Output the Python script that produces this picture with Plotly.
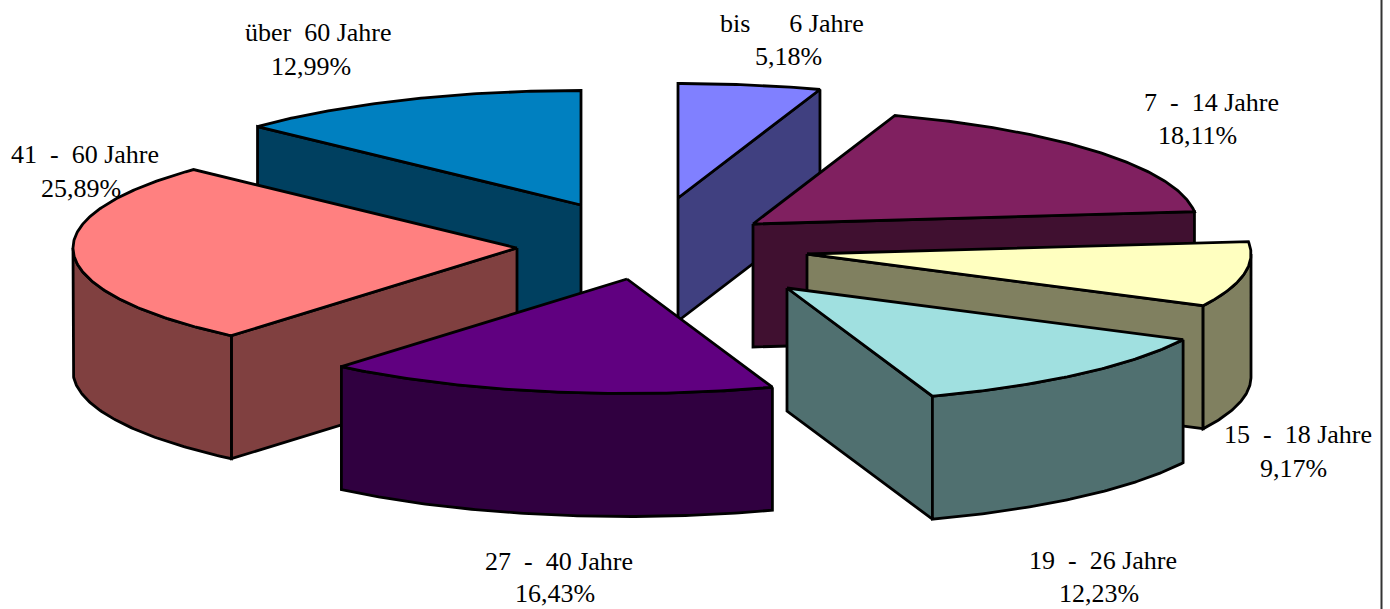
import math
import plotly.graph_objects as go

# --- data ---
categories = ["bis      6 Jahre", "7  -  14 Jahre", "15  -  18 Jahre", "19  -  26 Jahre",
              "27  -  40 Jahre", "41  -  60 Jahre", "über  60 Jahre"]
shares = [5.18, 18.11, 9.17, 12.23, 16.43, 25.89, 12.99]

# --- styles ---
top_colors = ["#8080FF", "#802060", "#FFFFC0", "#A0E0E0", "#600080", "#FF8080", "#0080C0"]
wall_colors = ["#404080", "#401030", "#808060", "#507070", "#300040", "#804040", "#004060"]

# --- pie geometry (in axis units = screen pixels) ---
CX, CY = 662, 251
RX, RY = 444, 114.5
DEPTH = 123
explode_x = [16, 91, 145, 125, -35, -145, -81]
explode_y = [-53, -27, 3, 37, 28, -3, -46]
draw_order = [6, 0, 1, 2, 3, 5, 4]
label_pos = [((792, 23), (788, 56)), ((1211, 102), (1197, 135)), ((1298, 434), (1293, 468)),
             ((1103, 560), (1099, 593.5)), ((559, 561), (555, 593.5)), ((85, 154), (81, 188)),
             ((318, 32), (311, 66))]

total = sum(shares)
edges = [0.0]
for s in shares:
    edges.append(edges[-1] + s / total * 360.0)


def rim(apex, a):
    t = math.radians(a)
    return apex[0] + RX * math.sin(t), apex[1] - RY * math.cos(t)


def arc(apex, a0, a1):
    n = max(2, int(abs(a1 - a0) * 2))
    return [rim(apex, a0 + (a1 - a0) * i / n) for i in range(n + 1)]


def add_poly(fig, pts, color):
    xs = [p[0] for p in pts] + [pts[0][0]]
    ys = [p[1] for p in pts] + [pts[0][1]]
    fig.add_trace(go.Scatter(x=xs, y=ys, mode="lines", fill="toself", fillcolor=color,
                             line=dict(color="#000000", width=2.8), hoverinfo="skip",
                             showlegend=False))


def lower(pts):
    return [(x, y + DEPTH) for x, y in reversed(pts)]


fig = go.Figure()
for i in draw_order:
    a0, a1 = edges[i], edges[i + 1]
    apex = (CX + explode_x[i], CY + explode_y[i])
    # cut faces turned towards the viewer
    if math.cos(math.radians(a0 - 90)) < -1e-6:
        edge = [apex, rim(apex, a0)]
        add_poly(fig, edge + lower(edge), wall_colors[i])
    if math.cos(math.radians(a1 + 90)) < -1e-6:
        edge = [apex, rim(apex, a1)]
        add_poly(fig, edge + lower(edge), wall_colors[i])
    # outer curved wall (front half of the rim only)
    lo, hi = max(a0, 90), min(a1, 270)
    if hi > lo:
        curve = arc(apex, lo, hi)
        add_poly(fig, curve + lower(curve), wall_colors[i])
    # top face
    add_poly(fig, [apex] + arc(apex, a0, a1), top_colors[i])

font = dict(family="Liberation Serif", size=26, color="#000000")
for name, share, (p1, p2) in zip(categories, shares, label_pos):
    fig.add_annotation(x=p1[0], y=p1[1], text=name.replace(" ", "\u00a0"), showarrow=False, font=font)
    fig.add_annotation(x=p2[0], y=p2[1], text=f"{share:.2f}%".replace(".", ","), showarrow=False, font=font)

fig.add_shape(type="line", xref="paper", yref="paper", x0=1381.5 / 1390, x1=1381.5 / 1390, y0=0, y1=1,
              line=dict(color="#333333", width=2))

fig.update_layout(
    width=1390, height=609, margin=dict(l=0, r=0, t=0, b=0),
    paper_bgcolor="#FFFFFF", plot_bgcolor="#FFFFFF", showlegend=False,
    xaxis=dict(range=[0, 1390], visible=False, fixedrange=True),
    yaxis=dict(range=[609, 0], visible=False, fixedrange=True),
)
fig.write_html("out.html", config={"displayModeBar": False},
               post_script="document.body.style.margin='0';document.body.style.overflow='hidden';")
